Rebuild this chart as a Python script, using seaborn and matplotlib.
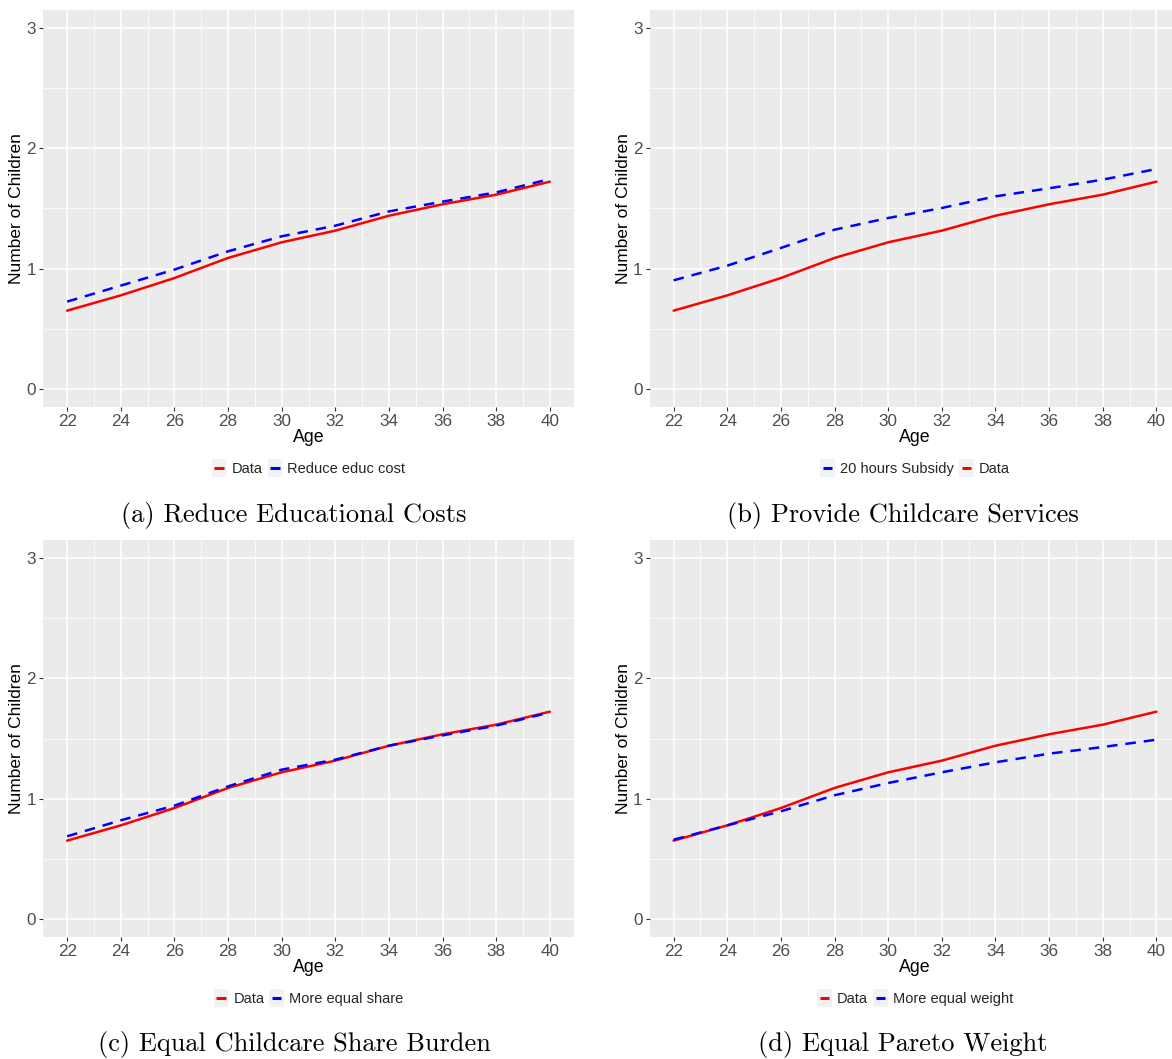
import matplotlib
matplotlib.use("Agg")
import matplotlib.pyplot as plt
from matplotlib.legend_handler import HandlerLine2D
from matplotlib.lines import Line2D
from matplotlib.patches import Rectangle
from matplotlib.ticker import MultipleLocator
import numpy as np
import pandas as pd
import seaborn as sns

# Completed fertility by age: observed data and policy counterfactuals
age = [22, 24, 26, 28, 30, 32, 34, 36, 38, 40]
data = [0.651, 0.778, 0.922, 1.089, 1.219, 1.316, 1.440, 1.535, 1.615, 1.723]
reduce_educ = [0.726, 0.859, 0.992, 1.144, 1.269, 1.357, 1.476, 1.557, 1.634, 1.745]
subsidy_20h = [0.903, 1.025, 1.172, 1.324, 1.421, 1.504, 1.601, 1.668, 1.740, 1.828]
equal_share = [0.687, 0.820, 0.942, 1.102, 1.241, 1.324, 1.440, 1.526, 1.607, 1.717]
equal_weight = [0.659, 0.778, 0.895, 1.028, 1.130, 1.219, 1.302, 1.374, 1.429, 1.490]

panel_captions = ["(a) Reduce Educational Costs", "(b) Provide Childcare Services",
                  "(c) Equal Childcare Share Burden", "(d) Equal Pareto Weight"]
panel_series = [
    ("Reduce educ cost", reduce_educ, ["Data", "Reduce educ cost"]),
    ("20 hours Subsidy", subsidy_20h, ["20 hours Subsidy", "Data"]),
    ("More equal share", equal_share, ["Data", "More equal share"]),
    ("More equal weight", equal_weight, ["Data", "More equal weight"]),
]
y_ticks = [0, 1, 2, 3]
x_ticks = age

sns.set_theme(style="darkgrid", rc={
    "axes.facecolor": "#EBEBEB",
    "grid.color": "white",
    "axes.edgecolor": "none",
})
plt.rcParams["font.family"] = ["Liberation Sans", "DejaVu Sans"]

W, H = 1172, 1059
fig = plt.figure(figsize=(W / 100, H / 100), dpi=100)
fig.patch.set_facecolor("white")


class KeyHandler(HandlerLine2D):
    """Legend key: short coloured segment on a light grey square."""
    def create_artists(self, legend, orig_handle, xdescent, ydescent,
                       width, height, fontsize, trans):
        x0, y0 = -xdescent, -ydescent
        bg = Rectangle((x0, y0 - 2), width, height + 4, facecolor="#F2F2F2",
                       edgecolor="none", transform=trans)
        seg = Line2D([x0 + width * 0.18, x0 + width * 0.82],
                     [y0 + height / 2] * 2, color=orig_handle.get_color(),
                     lw=2.2, solid_capstyle="butt", transform=trans)
        return [bg, seg]


# axes boxes in pixels: left, top, right, bottom
boxes = [(43, 10, 574, 407), (649.5, 10, 1180.5, 407),
         (43, 540, 574, 937), (649.5, 540, 1180.5, 937)]
caption_pos = [(294, 516), (903, 516), (294, 1045), (903, 1045)]

for i, (label, series, order) in enumerate(panel_series):
    l, t, r, b = boxes[i]
    ax = fig.add_axes([l / W, 1 - b / H, (r - l) / W, (b - t) / H])
    df = pd.DataFrame({"Age": age + age,
                       "Number of Children": data + series,
                       "series": ["Data"] * len(age) + [label] * len(age)})
    sns.lineplot(data=df[df.series == "Data"], x="Age", y="Number of Children",
                 color="red", lw=1.8, ax=ax, legend=False)
    sns.lineplot(data=df[df.series == label], x="Age", y="Number of Children",
                 color="blue", lw=1.8, ax=ax, legend=False)
    ax.lines[-1].set_dashes((4.2, 3.2))

    ax.set_xlim(21.1, 40.9)
    ax.set_ylim(-0.15, 3.15)
    ax.set_xticks(x_ticks)
    ax.set_yticks(y_ticks)
    ax.xaxis.set_minor_locator(MultipleLocator(1))
    ax.yaxis.set_minor_locator(MultipleLocator(0.5))
    ax.grid(which="major", color="white", lw=1.1)
    ax.grid(which="minor", color="white", lw=0.55)
    ax.tick_params(which="major", length=3, width=0.8, color="#333333",
                   labelsize=12.3, labelcolor="#4D4D4D", pad=2,
                   bottom=True, left=True)
    ax.tick_params(which="minor", length=0)
    for s in ax.spines.values():
        s.set_visible(False)

    ax.set_xlabel("Age", fontsize=12.8, color="black", va="center")
    ax.xaxis.set_label_coords(0.5, -31 / (b - t))
    ax.set_ylabel("Number of Children", fontsize=12.5, color="black", va="center")
    ax.yaxis.set_label_coords(-26 / (r - l), 0.5)

    handles = {"Data": Line2D([], [], color="red"),
               label: Line2D([], [], color="blue")}
    cx = ((l + r) / 2) / W
    fig.legend([handles[k] for k in order], order, loc="center",
               bbox_to_anchor=(cx, 1 - (b + 62) / H), ncol=2, frameon=False,
               fontsize=10.5, handlelength=1.0, handleheight=0.9,
               handletextpad=0.35, columnspacing=0.35,
               handler_map={Line2D: KeyHandler()})

    px, py = caption_pos[i]
    fig.text(px / W, 1 - py / H, panel_captions[i], ha="center", va="center",
             family="cmr10", fontsize=19, color="black")

fig.savefig("out.png", dpi=100, facecolor="white")
